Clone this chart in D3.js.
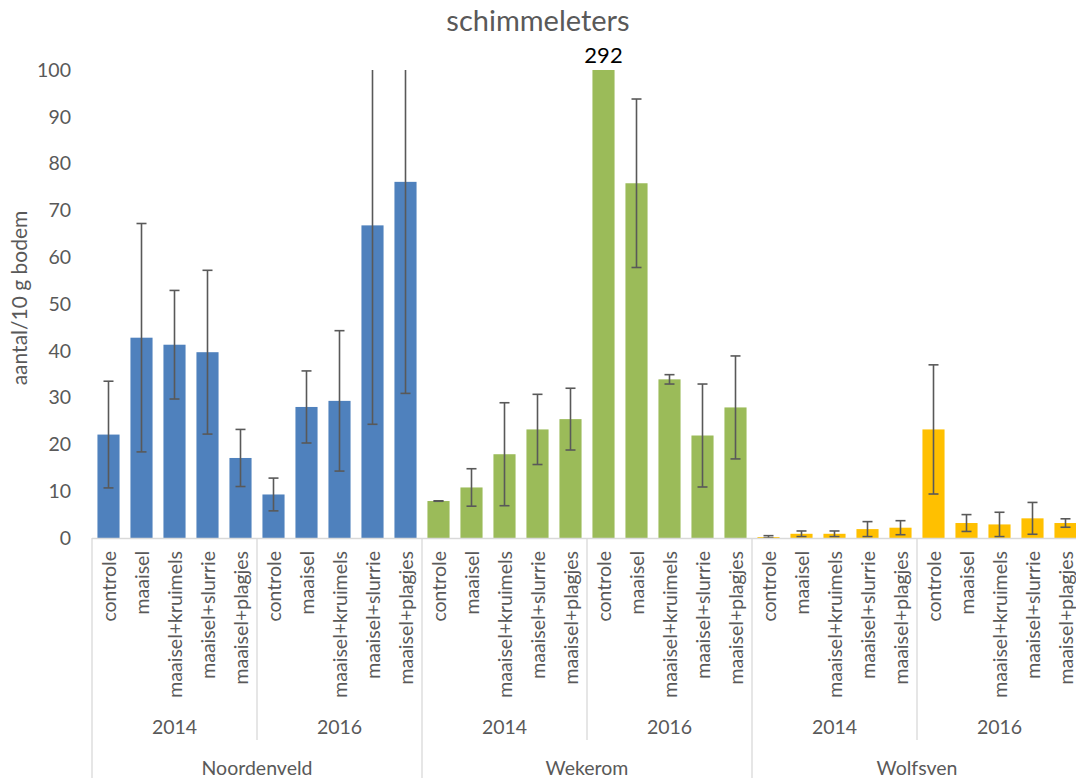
<!DOCTYPE html>
<html><head><meta charset="utf-8">
<script src="https://cdn.jsdelivr.net/npm/d3@7"></script>
<style>body{margin:0;background:#fff}svg{display:block}text{font-family:Lato,"Open Sans",sans-serif}</style>
</head><body><svg id="c" width="1076" height="778"></svg>
<script>
const sites = ["Noordenveld", "Wekerom", "Wolfsven"];
const years = ["2014", "2016"];
const treatments = ["controle", "maaisel", "maaisel+kruimels", "maaisel+slurrie", "maaisel+plagjes"];
const siteColors = ["#4F81BD", "#9BBB59", "#FFC000"];
// values per site, per year (5 treatments each)
const noordenveld2014 = [22.1, 42.8, 41.3, 39.7, 17.1];
const noordenveld2016 = [9.3, 28.0, 29.3, 66.8, 76.1];
const wekerom2014 = [7.9, 10.8, 17.9, 23.2, 25.4];
const wekerom2016 = [292, 75.8, 33.9, 21.9, 27.9];
const wolfsven2014 = [0.2, 0.9, 0.9, 1.9, 2.2];
const wolfsven2016 = [23.2, 3.2, 2.9, 4.2, 3.2];
// error (+/-) per bar
const errNoordenveld2014 = [11.4, 24.4, 11.6, 17.5, 6.1];
const errNoordenveld2016 = [3.5, 7.7, 15.0, 42.5, 45.2];
const errWekerom2014 = [0.05, 4.0, 11.0, 7.5, 6.6];
const errWekerom2016 = [null, 18.0, 1.0, 11.0, 11.0];
const errWolfsven2014 = [0.3, 0.6, 0.6, 1.6, 1.5];
const errWolfsven2016 = [13.8, 1.8, 2.6, 3.4, 0.9];
const yTicks = [0, 10, 20, 30, 40, 50, 60, 70, 80, 90, 100];
const title = "schimmeleters";
const yTitle = "aantal/10 g bodem";

const valueGroups = [[noordenveld2014, noordenveld2016],[wekerom2014, wekerom2016],[wolfsven2014, wolfsven2016]];
const errGroups = [[errNoordenveld2014, errNoordenveld2016],[errWekerom2014, errWekerom2016],[errWolfsven2014, errWolfsven2016]];
const rows = [];
sites.forEach((s, si) => years.forEach((y, yi) => treatments.forEach((t, ti) => {
  rows.push({key: s + "|" + y + "|" + t, site: s, si, year: y, yi, t, v: valueGroups[si][yi][ti], e: errGroups[si][yi][ti]});
})));

const svg = d3.select("#c");
const yMax = 100;
const x = d3.scaleBand().domain(rows.map(d => d.key)).range([92, 1082]).paddingInner(0.33).paddingOuter(0.165);
const y = d3.scaleLinear().domain([0, yMax]).range([538, 70]);
const step = x.step();
const x0 = 92;
const labelFont = 19.5;

// title
svg.append("text").attr("x", 538).attr("y", 31).attr("text-anchor", "middle")
  .attr("font-size", 29).attr("fill", "#595959").text(title);
// y title
svg.append("text").attr("transform", "translate(27,298) rotate(-90)").attr("text-anchor", "middle")
  .attr("font-size", 21).attr("fill", "#595959").text(yTitle);
// y axis labels
const yAxis = d3.axisLeft(y).tickValues(yTicks).tickSize(0).tickPadding(0);
const ga = svg.append("g").attr("transform", "translate(71,0)").call(yAxis);
ga.select(".domain").remove();
ga.selectAll("text").attr("font-size", labelFont).attr("fill", "#595959").attr("font-family", "Lato, 'Open Sans', sans-serif");

// bars
svg.append("g").selectAll("rect").data(rows).join("rect")
  .attr("x", d => x(d.key)).attr("width", x.bandwidth())
  .attr("y", d => y(Math.min(d.v, yMax))).attr("height", d => y(0) - y(Math.min(d.v, yMax)))
  .attr("fill", d => siteColors[d.si]);

// error bars
const eg = svg.append("g").attr("stroke", "#595959").attr("stroke-width", 1.6);
rows.filter(d => d.e !== null).forEach(d => {
  const cx = x(d.key) + x.bandwidth() / 2;
  const top = d.v + d.e, bot = Math.max(0, d.v - d.e);
  eg.append("line").attr("x1", cx).attr("x2", cx).attr("y1", y(Math.min(top, yMax))).attr("y2", y(bot));
  if (top <= yMax) eg.append("line").attr("x1", cx - 5).attr("x2", cx + 5).attr("y1", y(top)).attr("y2", y(top));
  eg.append("line").attr("x1", cx - 5).attr("x2", cx + 5).attr("y1", y(bot)).attr("y2", y(bot));
});

// overflow label
rows.filter(d => d.v > yMax).forEach(d => {
  svg.append("text").attr("x", x(d.key) + x.bandwidth() / 2).attr("y", y(yMax) - 7)
    .attr("text-anchor", "middle").attr("font-size", 22).attr("fill", "#000").text(d3.format("d")(d.v));
});

// x axis
const gl = svg.append("g").attr("stroke", "#d9d9d9").attr("stroke-width", 1.3);
gl.append("line").attr("x1", x0).attr("x2", 1082).attr("y1", 538.5).attr("y2", 538.5);
const nPerYear = treatments.length, nPerSite = nPerYear * years.length;
for (let i = 0; i <= rows.length; i += nPerYear) {
  const xx = x0 + i * step;
  const isSite = i % nPerSite === 0;
  gl.append("line").attr("x1", xx).attr("x2", xx).attr("y1", 538).attr("y2", isSite ? 778 : 740);
}
// treatment labels
svg.append("g").selectAll("text").data(rows).join("text")
  .attr("transform", d => `translate(${x(d.key) + x.bandwidth() / 2 + 7},551) rotate(-90)`)
  .attr("text-anchor", "end").attr("font-size", labelFont).attr("fill", "#595959").text(d => d.t);
// year labels
sites.forEach((s, si) => years.forEach((yr, yi) => {
  const start = x0 + (si * nPerSite + yi * nPerYear) * step;
  svg.append("text").attr("x", start + nPerYear * step / 2).attr("y", 734).attr("text-anchor", "middle")
    .attr("font-size", labelFont).attr("fill", "#595959").text(yr);
}));
sites.forEach((s, si) => {
  const start = x0 + si * nPerSite * step;
  svg.append("text").attr("x", start + nPerSite * step / 2).attr("y", 775).attr("text-anchor", "middle")
    .attr("font-size", labelFont).attr("fill", "#595959").text(s);
});
</script></body></html>
